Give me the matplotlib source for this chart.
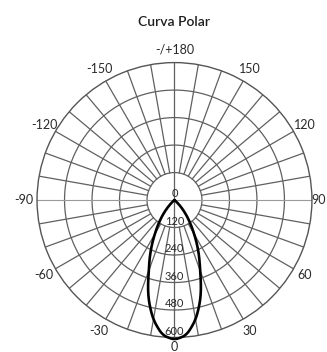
import numpy as np
import matplotlib
matplotlib.use("Agg")
import matplotlib.pyplot as plt

# Luminous intensity (cd) of the beam, symmetric about the downward axis
beam_angles = [0, 5, 10, 15, 20, 25, 30, 35, 40, 45, 50]
beam_intensity = [610, 592, 530, 440, 325, 245, 170, 112, 65, 25, 0]

ring_values = [120, 240, 360, 480, 600]
angle_ticks = [180, 150, 120, 90, 60, 30, 0, -30, -60, -90, -120, -150]
angle_labels = ["-/+180", "150", "120", "90", "60", "30", "0",
                "-30", "-60", "-90", "-120", "-150"]
title_text = "Curva Polar"

plt.rcParams['font.family'] = ['Lato', 'DejaVu Sans']

fig = plt.figure(figsize=(3.27, 3.52), dpi=100)
ax = fig.add_axes([0.1131, 0.0412, 0.841, 0.781], projection='polar')
ax.set_theta_zero_location('S')
ax.set_theta_direction(1)
ax.set_ylim(0, 600)
ax.grid(False)
ax.set_xticks([])
ax.set_yticks([])
ax.spines['polar'].set_color('#555555')
ax.spines['polar'].set_linewidth(1.0)

grid_col = '#606060'
th = np.linspace(0, 2 * np.pi, 400)
for v in ring_values[:-1]:
    ax.plot(th, np.full_like(th, v), color=grid_col, lw=0.9, zorder=1)

# spokes every 10 degrees, starting at the innermost ring
for a in range(0, 360, 10):
    t = np.deg2rad(a)
    if a in (0, 180):
        ax.plot([t, t], [0, 600], color=grid_col, lw=0.9, zorder=1)
    elif a in (90, 270):
        ax.plot([t, t], [0, 600], color='#9a9a9a', lw=0.8, zorder=1)
    else:
        ax.plot([t, t], [ring_values[0], 600], color=grid_col, lw=0.9,
                zorder=1)

# angle labels outside the outer ring
label_r = {90: 628, 0: 640}
for a, lab in zip(angle_ticks, angle_labels):
    ax.text(np.deg2rad(a), label_r.get(a, 658), lab, ha='center',
            va='center', fontsize=9, color='#2a2a2a', clip_on=False)

# intensity labels along the downward axis
ax.text(np.pi, 30, "0", ha='center', va='center', fontsize=8,
        color='#2a2a2a')
for v in ring_values:
    ax.text(0, v - 28, str(v), ha='center', va='center', fontsize=8,
            color='#2a2a2a')

# beam curve, mirrored for negative angles
ang = np.array(beam_angles, dtype=float)
val = np.array(beam_intensity, dtype=float)
full_ang = np.concatenate([-ang[::-1], ang[1:]])
full_val = np.concatenate([val[::-1], val[1:]])
fine = np.linspace(full_ang.min(), full_ang.max(), 400)
fine_val = np.interp(fine, full_ang, full_val)
# light smoothing of the piecewise interpolation
k = np.ones(15) / 15
pad = np.pad(fine_val, 7, mode='edge')
fine_val = np.convolve(pad, k, mode='valid')
ax.plot(np.deg2rad(fine), fine_val, color='black', lw=1.9, zorder=3,
        clip_on=False)

fig.text(0.5336, 1 - 22 / 352, title_text, ha='center', va='center',
         fontsize=10, color='#1e1e1e', fontweight='semibold')

fig.savefig("out.png", dpi=100)
